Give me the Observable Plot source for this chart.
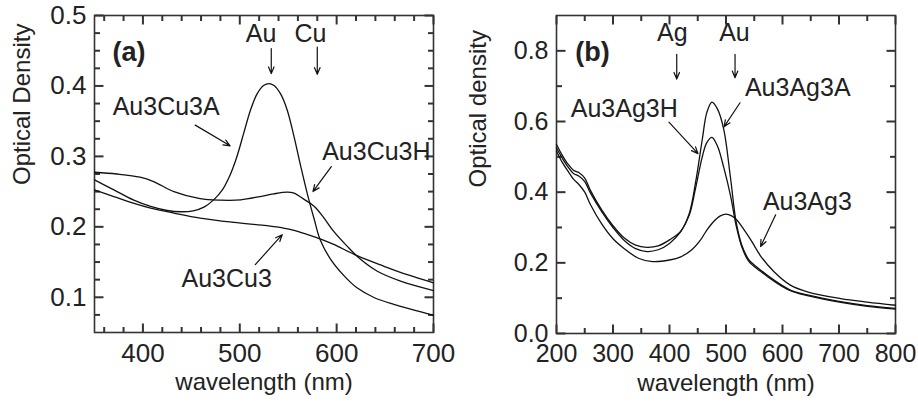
<!DOCTYPE html>
<html><head><meta charset="utf-8">
<script src="https://cdn.jsdelivr.net/npm/d3@7"></script>
<script src="https://cdn.jsdelivr.net/npm/@observablehq/plot@0.6"></script>
<style>
body{margin:0;background:#fff;overflow:hidden;}
#wrap{display:flex;width:918px;height:404px;overflow:hidden;}
#wrap svg{flex:none;max-width:none;}
</style></head><body><div id="wrap"></div>
<script>
// ---------- Panel (a) data ----------
const aXTitle = "wavelength (nm)";
const aYTitle = "Optical Density";
const aTag = "(a)";
const aXTicks = [400, 500, 600, 700];
const aXMinor = [360, 380, 420, 440, 460, 480, 520, 540, 560, 580, 620, 640, 660, 680];
const aYTicks = [0.1, 0.2, 0.3, 0.4, 0.5];
const aYMinor = [0.075, 0.125, 0.15, 0.175, 0.225, 0.25, 0.275, 0.325, 0.35, 0.375, 0.425, 0.45, 0.475];

const aNames = ["Au3Cu3A", "Au3Cu3H", "Au3Cu3"];
const aWlA = [350,370,390,408,425,439,452,463,473,482,490,497,504,511,518,525,530,535,542,549,556,563,570,577,583,594,608,621,639,659,680,700];
const aOdA = [0.2666,0.2525,0.2383,0.229,0.2232,0.2214,0.2228,0.228,0.2383,0.2525,0.2737,0.2996,0.3326,0.3656,0.3892,0.401,0.4033,0.401,0.389,0.3656,0.328,0.2855,0.2454,0.21,0.1818,0.1535,0.13,0.1134,0.0993,0.0898,0.0818,0.0743];
const aWlH = [350,373,397,411,432,459,480,501,521,535,549,556,566,577,587,597,611,625,642,666,700];
const aOdH = [0.2775,0.275,0.2705,0.2643,0.25,0.240,0.2379,0.2383,0.243,0.2468,0.2492,0.2478,0.2393,0.2289,0.2124,0.1935,0.1723,0.1535,0.137,0.123,0.1096];
const aWl0 = [350,370,390,408,432,459,494,528,545,556,570,583,597,621,649,673,700];
const aOd0 = [0.2525,0.243,0.2336,0.2265,0.2195,0.2124,0.2063,0.2016,0.1983,0.195,0.189,0.183,0.175,0.159,0.144,0.132,0.1205];

// annotation labels (x = wavelength, y = baseline OD)
const aLabText = ["Au", "Cu", "Au3Cu3A", "Au3Cu3H", "Au3Cu3"];
const aLabX = [522, 573, 424, 641, 486.5];
const aLabY = [0.463, 0.463, 0.3585, 0.2949, 0.1148];
const aTagX = 385.5, aTagY = 0.436;
// arrows
const aArrX1 = [532.5, 580, 454, 594.5, 516];
const aArrY1 = [0.453, 0.455, 0.3444, 0.2855, 0.1464];
const aArrX2 = [532.5, 580, 490, 575.5, 543.8];
const aArrY2 = [0.4175, 0.4165, 0.315, 0.25, 0.1888];

// ---------- Panel (b) data ----------
const bXTitle = "wavelength (nm)";
const bYTitle = "Optical density";
const bTag = "(b)";
const bXTicks = [200, 300, 400, 500, 600, 700, 800];
const bXMinor = [250, 350, 450, 550, 650, 750];
const bYTicks = [0.0, 0.2, 0.4, 0.6, 0.8];
const bYMinor = [0.1, 0.3, 0.5, 0.7];

const bNames = ["Au3Ag3A", "Au3Ag3H", "Au3Ag3"];
const bWlA = [200,210,220,230,240,250,260,280,300,320,340,360,380,400,420,435,446,458,466,475,485,496,508,518,528,540,561,585,614,644,703,750,800];
const bOdA = [0.535,0.505,0.48,0.462,0.455,0.44,0.405,0.35,0.305,0.27,0.25,0.244,0.248,0.265,0.29,0.34,0.426,0.549,0.625,0.655,0.635,0.578,0.44,0.315,0.25,0.21,0.18,0.151,0.123,0.109,0.09,0.079,0.071];
const bWlH = [200,210,220,230,240,250,260,280,300,320,340,360,380,400,420,435,446,458,466,475,485,496,508,518,528,540,561,585,614,644,703,750,800];
const bOdH = [0.525,0.497,0.472,0.453,0.445,0.43,0.398,0.345,0.3,0.263,0.24,0.232,0.237,0.255,0.288,0.335,0.41,0.5,0.54,0.555,0.53,0.47,0.39,0.305,0.245,0.205,0.176,0.148,0.121,0.107,0.088,0.077,0.069];
const bWl0 = [200,210,220,230,240,250,260,280,300,320,345,370,400,420,440,455,465,477,490,500,510,520,530,545,561,585,614,644,703,750,800];
const bOd0 = [0.516,0.485,0.46,0.437,0.421,0.40,0.365,0.31,0.268,0.24,0.213,0.2035,0.208,0.217,0.238,0.265,0.29,0.315,0.333,0.338,0.333,0.32,0.298,0.262,0.22,0.175,0.137,0.118,0.099,0.089,0.08];

const bLabText = ["Ag", "Au", "Au3Ag3A", "Au3Ag3H", "Au3Ag3"];
const bLabX = [405, 515, 627, 320, 644];
const bLabY = [0.8286, 0.8286, 0.672, 0.6136, 0.350];
const bTagX = 263.7, bTagY = 0.772;
const bArrX1 = [412.8, 516, 524.8, 399, 587.9];
const bArrY1 = [0.79, 0.79, 0.653, 0.598, 0.336];
const bArrX2 = [412.8, 516, 496.5, 450.5, 561.3];
const bArrY2 = [0.72, 0.724, 0.585, 0.509, 0.246];

// ---------- helpers ----------
const FONT = "Liberation Sans, Arial, Helvetica, sans-serif";
const zipSeries = (names, wls, ods) => names.flatMap((n, i) => wls[i].map((w, j) => ({series: n, wl: w, od: ods[i][j]})));
const zipLabels = (t, x, y) => t.map((s, i) => ({text: s, x: x[i], y: y[i]}));
const zipArrows = (x1, y1, x2, y2) => x1.map((v, i) => ({x1: v, y1: y1[i], x2: x2[i], y2: y2[i]}));

function panel(o) {
  const fmt = d3.format(".1f");
  const mt = 15;
  const fw = o.width - o.ml - o.mr;
  const fh = 404 - mt - o.mb;
  const [x0, x1] = o.xDomain, [y0, y1] = o.yDomain;
  // pixel tick length expressed along each axis
  const ly = px => (y1 - y0) * px / fh;
  const lx = px => (x1 - x0) * px / fw;
  const tk = {stroke: "#333", strokeWidth: 2};
  const xt = (vals, len) => [
    ...vals.map(v => ({x: v, ya: y0, yb: y0 + ly(len)})),
    ...vals.map(v => ({x: v, ya: y1 - ly(len), yb: y1}))
  ];
  const yt = (vals, len) => [
    ...vals.map(v => ({y: v, xa: x0, xb: x0 + lx(len)})),
    ...vals.map(v => ({y: v, xa: x1 - lx(len), xb: x1}))
  ];
  const xTickRows = [...xt(o.xTicks, 9), ...xt(o.xMinor, 5.5)];
  const yTickRows = [...yt(o.yTicks, 9), ...yt(o.yMinor, 5.5)];
  return Plot.plot({
    width: o.width, height: 404,
    marginLeft: o.ml, marginRight: o.mr, marginTop: mt, marginBottom: o.mb,
    x: {domain: o.xDomain},
    y: {domain: o.yDomain},
    style: {fontFamily: FONT, fontSize: o.tickFont + "px", color: "#222", background: "#fff", overflow: "visible"},
    marks: [
      Plot.axisX(o.xTicks, {anchor: "bottom", tickSize: 0, tickPadding: 11, label: null, fontSize: o.tickFont}),
      Plot.axisY(o.yTicks, {anchor: "left", tickSize: 0, tickPadding: 8, tickFormat: fmt, label: null, fontSize: o.tickFont}),
      Plot.link(xTickRows, {x1: "x", x2: "x", y1: "ya", y2: "yb", ...tk}),
      Plot.link(yTickRows, {y1: "y", y2: "y", x1: "xa", x2: "xb", ...tk}),
      Plot.frame({stroke: "#333", strokeWidth: 1.6}),
      Plot.line(o.lines, {x: "wl", y: "od", z: "series", stroke: "#111", strokeWidth: 1.3, curve: "catmull-rom"}),
      Plot.arrow(o.arrows, {x1: "x1", y1: "y1", x2: "x2", y2: "y2", stroke: "#111", strokeWidth: 1.2, headLength: 9, headAngle: 45}),
      Plot.text(o.labels, {x: "x", y: "y", text: "text", fontSize: 25, lineAnchor: "bottom", fill: "#222"}),
      Plot.text([o.tag], {x: o.tagX, y: o.tagY, text: d => d, fontSize: 27, fontWeight: "bold", lineAnchor: "bottom", fill: "#222"}),
      Plot.text([o.xTitle], {frameAnchor: "bottom", dy: 57, text: d => d, fontSize: 24, fill: "#222"}),
      Plot.text([o.yTitle], {frameAnchor: "left", rotate: -90, dx: o.yTitleDx, dy: o.yTitleDy, text: d => d, fontSize: 24, fill: "#222"})
    ]
  });
}

const wrap = document.getElementById("wrap");
wrap.append(panel({
  width: 460, ml: 94, mr: 27, mb: 72, tickFont: 26,
  xDomain: [350, 700], yDomain: [0.05, 0.5],
  xTicks: aXTicks, xMinor: aXMinor, yTicks: aYTicks, yMinor: aYMinor,
  lines: zipSeries(aNames, [aWlA, aWlH, aWl0], [aOdA, aOdH, aOd0]),
  labels: zipLabels(aLabText, aLabX, aLabY),
  arrows: zipArrows(aArrX1, aArrY1, aArrX2, aArrY2),
  tag: aTag, tagX: aTagX, tagY: aTagY,
  xTitle: aXTitle, yTitle: aYTitle, yTitleDx: -72, yTitleDy: 11
}));
wrap.append(panel({
  width: 458, ml: 96, mr: 23, mb: 71, tickFont: 25,
  xDomain: [200, 800], yDomain: [0, 0.9],
  xTicks: bXTicks, xMinor: bXMinor, yTicks: bYTicks, yMinor: bYMinor,
  lines: zipSeries(bNames, [bWlA, bWlH, bWl0], [bOdA, bOdH, bOd0]),
  labels: zipLabels(bLabText, bLabX, bLabY),
  arrows: zipArrows(bArrX1, bArrY1, bArrX2, bArrY2),
  tag: bTag, tagX: bTagX, tagY: bTagY,
  xTitle: bXTitle, yTitle: bYTitle, yTitleDx: -78, yTitleDy: 13
}));
</script>
</body></html>
